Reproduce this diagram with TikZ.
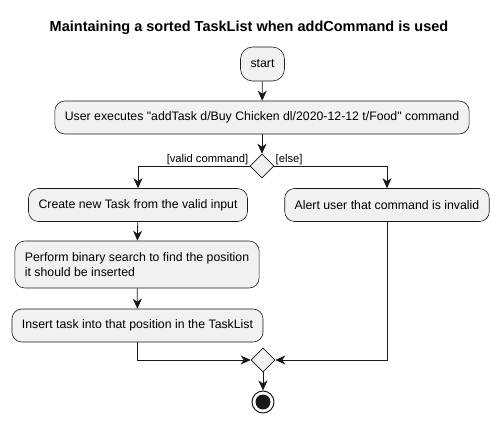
\documentclass[tikz,border=0pt]{standalone}
\usepackage{fontspec}
\setmainfont{Liberation Sans}
\usetikzlibrary{arrows.meta, shapes.geometric}
\definecolor{actfill}{HTML}{F1F1F1}
\definecolor{actline}{HTML}{181818}
\tikzstyle{every picture} = [x=1pt, y=-1pt, >={Stealth[length=10pt, width=9pt, inset=3pt]}, line width=.8pt, draw=actline]
\tikzstyle{act} = [draw=actline, fill=actfill, line width=.6pt, rounded corners=10pt, inner xsep=10pt, minimum height=33pt, font=\fontsize{12.3}{14.5}\selectfont]
\tikzstyle{branch} = [diamond, draw=actline, fill=actfill, line width=.6pt, minimum size=24pt, inner sep=0pt]
\tikzstyle{guard} = [font=\fontsize{11.2}{13}\selectfont, inner sep=1pt]
\begin{document}
\begin{tikzpicture}
            \useasboundingbox (0,0) rectangle (499,424);
            \node (title) at (249,28) {\bfseries\fontsize{14.5}{16}\selectfont Maintaining a sorted TaskList when addCommand is used};
            \node (start) [act, rounded corners=12pt, inner xsep=10pt, minimum height=34pt] at (262.5,64) {start};
            \node (cmd) [act] at (262,117.5) {User executes \textquotedbl addTask d/Buy Chicken dl/2020-12-12 t/Food\textquotedbl{} command};
            \node (check) [branch] at (262,166) {};
            \node (create) [act] at (138,205) {Create new Task from the valid input};
            \node (alert) [act] at (387,205) {Alert user that command is invalid};
            \node (search) [act, align=left, minimum height=47pt] at (137,264.5) {Perform binary search to find the position\\it should be inserted};
            \node (insert) [act] at (137.5,325.5) {Insert task into that position in the TaskList};
            \node (merge) [branch] at (263,360) {};
            \node (stop) [circle, draw=actline, line width=1pt, minimum size=22pt] at (263,402) {};
            \node (stop dot) [circle, fill=actline, minimum size=15pt] at (263,402) {};

            \node (valid label) [guard, anchor=south east] at (check.west) {[valid command]};
            \node (else label) [guard, anchor=south west] at (check.east) {[else]};

            \path (start) edge[->] (cmd)
                  (cmd) edge[->] (check)
                  (create) edge[->] (search)
                  (search) edge[->] (insert)
                  (merge) edge[->] (stop);
            \draw[->] (check.west) -| (create.north);
            \draw[->] (check.east) -| (alert.north);
            \draw[->] (insert.south) |- (merge.west);
            \draw[->] (alert.south) |- (merge.east);
        \end{tikzpicture}
\end{document}
